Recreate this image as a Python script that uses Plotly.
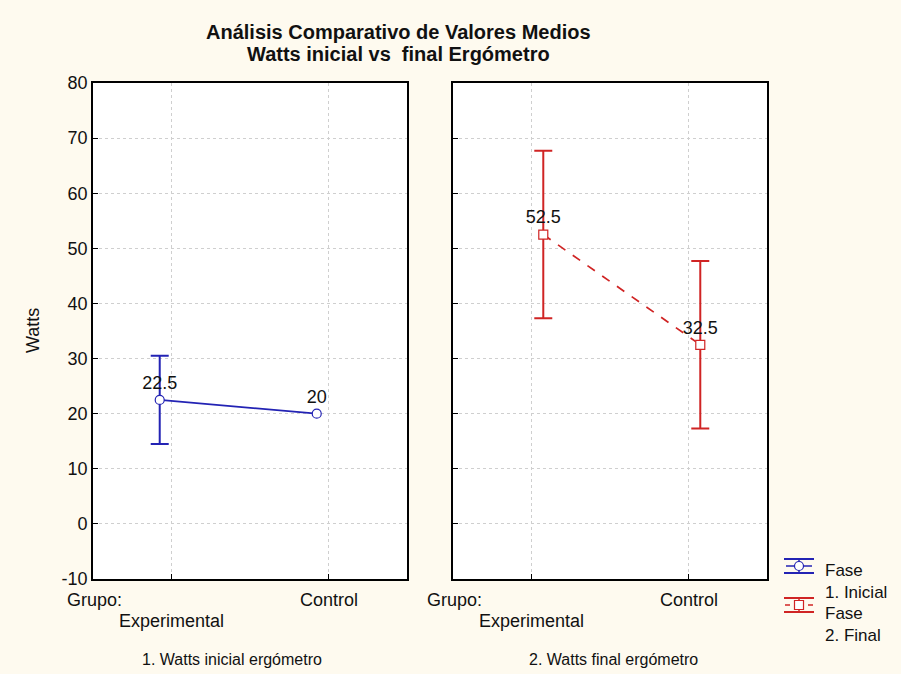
import plotly.graph_objects as go

# ---- data ----
categories = ["Experimental", "Control"]
inicial_means = [22.5, 20.0]
inicial_err = [8.0, None]
final_means = [52.5, 32.5]
final_err = [15.2, 15.2]
y_ticks = [-10, 0, 10, 20, 30, 40, 50, 60, 70, 80]
y_ticktext = ["-10", "0", "10", "20", "30", "40", "50", "60", "70", "80"]
title_lines = ["Análisis Comparativo de Valores Medios", "Watts inicial vs  final Ergómetro"]
panel_titles = ["1. Watts inicial ergómetro", "2. Watts final ergómetro"]
legend_labels = ["Fase<br>1. Inicial", "Fase<br>2. Final"]

BLUE = "#2323B4"
RED = "#D02424"
BG = "#FEFAEF"
FONT = "Liberation Sans, Arial, sans-serif"

W, H = 901, 674
ML, MR, MT, MB = 93, 134, 83, 95
PW = W - ML - MR
PH = H - MT - MB


def px(x):
    return (x - ML) / PW


def py(y):
    return (H - MB - y) / PH


idx = list(range(len(categories)))
off = 0.075

fig = go.Figure()


def add_series(xs, means, errs, color, dash, symbol, xa, ya):
    # error bars only for points that have an interval
    ex = [x for x, e in zip(xs, errs) if e is not None]
    ey = [m for m, e in zip(means, errs) if e is not None]
    ee = [e for e in errs if e is not None]
    fig.add_trace(go.Scatter(
        x=ex, y=ey, xaxis=xa, yaxis=ya, mode="markers",
        marker=dict(size=1, color="rgba(0,0,0,0)"),
        error_y=dict(type="data", array=ee, color=color, thickness=2, width=9),
        showlegend=False, hoverinfo="skip",
    ))
    fig.add_trace(go.Scatter(
        x=xs, y=means, xaxis=xa, yaxis=ya,
        mode="lines+markers+text",
        text=[f"{v:g}" for v in means], textposition="top center",
        textfont=dict(size=18, color="#111111", family=FONT),
        line=dict(color=color, width=1.7, dash=dash),
        marker=dict(symbol=symbol, size=9, color="white", line=dict(color=color, width=1.2)),
        showlegend=False, cliponaxis=False,
    ))


add_series([i - off for i in idx], inicial_means, inicial_err, BLUE, "solid", "circle", "x", "y")
add_series([i + off for i in idx], final_means, final_err, RED, "dash", "square", "x2", "y2")

xcommon = dict(range=[-0.5, 1.5], tickvals=idx, showticklabels=False,
               ticks="inside", ticklen=5, tickwidth=1.2, tickcolor="black",
               showgrid=True, gridcolor="#CFCFCF", griddash="dot", gridwidth=1,
               showline=True, linecolor="black", linewidth=1.6, mirror=True,
               zeroline=False)
ycommon = dict(range=[-10, 80], tickvals=y_ticks, ticktext=y_ticktext,
               ticks="inside", ticklen=5, tickwidth=1.2, tickcolor="black",
               showgrid=True, gridcolor="#CFCFCF", griddash="dot", gridwidth=1,
               showline=True, linecolor="black", linewidth=1.6, mirror=True,
               zeroline=False, tickfont=dict(size=18, color="#111111", family=FONT))

d1 = [0, px(407)]
d2 = [px(453), 1]

fig.update_layout(
    width=W, height=H,
    margin=dict(l=ML, r=MR, t=MT, b=MB),
    paper_bgcolor=BG, plot_bgcolor="white",
    font=dict(family=FONT, color="#111111"),
    xaxis=dict(domain=d1, anchor="y", **xcommon),
    yaxis=dict(domain=[0, 1], anchor="x", **ycommon),
    xaxis2=dict(domain=d2, anchor="y2", **xcommon),
    yaxis2=dict(domain=[0, 1], anchor="x2", showticklabels=False,
                **{k: v for k, v in ycommon.items() if k != "tickfont"}),
)

ann = []
# title (two lines)
for line, yy in zip(title_lines, (32, 54)):
    ann.append(dict(text=f"<b>{line}</b>", x=px(398), y=py(yy), xref="paper", yref="paper",
                    showarrow=False, xanchor="center", yanchor="middle",
                    font=dict(size=20, family=FONT, color="#111111")))
# y-axis title
ann.append(dict(text="Watts", x=px(33), y=py(330), xref="paper", yref="paper",
                textangle=-90, showarrow=False, font=dict(size=18, family=FONT),
                xanchor="center", yanchor="middle"))
# category labels
for k, (xr, left_px, title_px) in enumerate([("x", 65, 232), ("x2", 425, 613)]):
    ann.append(dict(text="Grupo:", x=px(left_px), y=py(600), xref="paper", yref="paper",
                    showarrow=False, xanchor="left", yanchor="middle",
                    font=dict(size=18, family=FONT)))
    ann.append(dict(text=categories[0], x=idx[0], y=py(621), xref=xr, yref="paper",
                    showarrow=False, xanchor="center", yanchor="middle",
                    font=dict(size=18, family=FONT)))
    ann.append(dict(text=categories[1], x=idx[1], y=py(600), xref=xr, yref="paper",
                    showarrow=False, xanchor="center", yanchor="middle",
                    font=dict(size=18, family=FONT)))
    ann.append(dict(text=panel_titles[k], x=px(title_px), y=py(659), xref="paper", yref="paper",
                    showarrow=False, xanchor="center", yanchor="middle",
                    font=dict(size=16, family=FONT)))

# custom legend
shapes = []
leg = [(BLUE, "solid", "circle", 559, 566, 573, 581), (RED, "dash", "square", 598, 605, 612, 624)]
for k, (col, dash, sym, ytop, ymid, ybot, ytext) in enumerate(leg):
    x0, x1, xc = 784, 814, 799
    for yy in (ytop, ybot):
        shapes.append(dict(type="line", xref="paper", yref="paper", x0=px(x0), x1=px(x1),
                           y0=py(yy), y1=py(yy), line=dict(color=col, width=2)))
    shapes.append(dict(type="line", xref="paper", yref="paper", x0=px(xc), x1=px(xc),
                       y0=py(ytop), y1=py(ybot), line=dict(color=col, width=1.5)))
    if dash == "solid":
        shapes.append(dict(type="line", xref="paper", yref="paper", x0=px(x0 + 2), x1=px(x1 - 2),
                           y0=py(ymid), y1=py(ymid), line=dict(color=col, width=1.5)))
    else:
        for a, b in ((x0 + 1, x0 + 6), (x1 - 6, x1 - 1)):
            shapes.append(dict(type="line", xref="paper", yref="paper", x0=px(a), x1=px(b),
                               y0=py(ymid), y1=py(ymid), line=dict(color=col, width=1.5)))
    r = 4.5
    shapes.append(dict(type="circle" if sym == "circle" else "rect", xref="paper", yref="paper",
                       x0=px(xc - r), x1=px(xc + r), y0=py(ymid - r), y1=py(ymid + r),
                       fillcolor="white", line=dict(color=col, width=1.2)))
    ann.append(dict(text=legend_labels[k], x=px(823), y=py(ytext), xref="paper", yref="paper",
                    showarrow=False, xanchor="left", yanchor="middle", align="left",
                    font=dict(size=17, family=FONT)))

fig.update_layout(annotations=ann, shapes=shapes)
fig.write_html("out.html", config={"displayModeBar": False},
               post_script="document.body.style.margin='0';document.body.style.padding='0';")
